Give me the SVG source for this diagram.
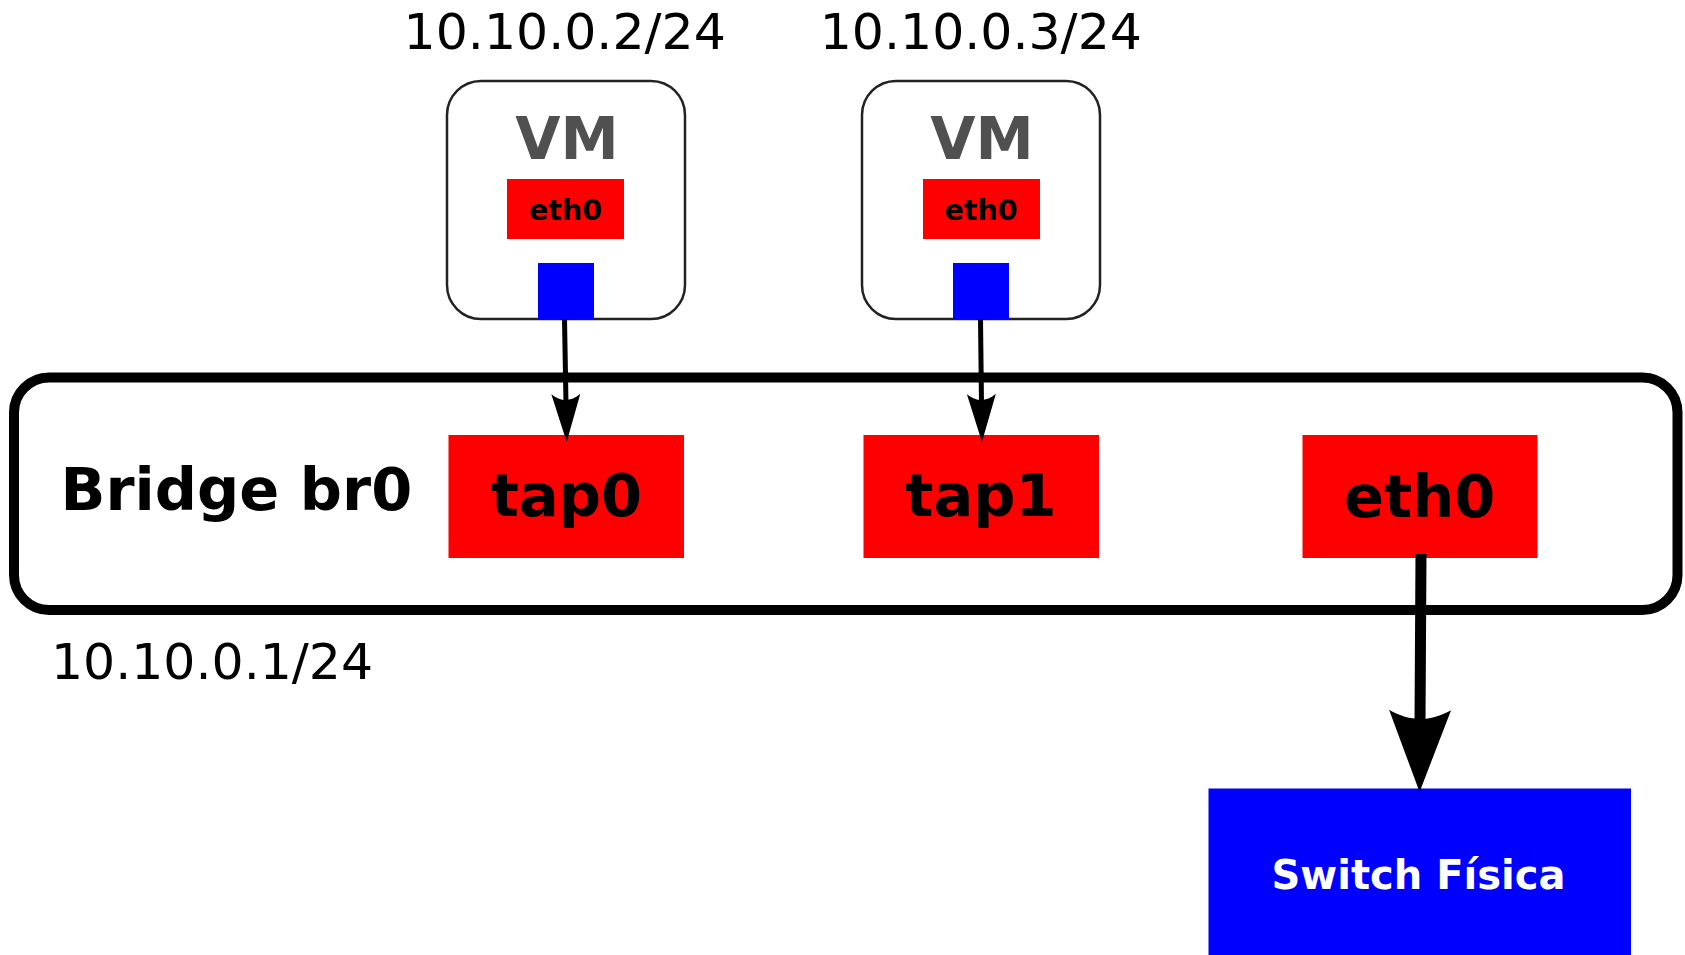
<svg xmlns="http://www.w3.org/2000/svg" width="1685" height="955" viewBox="0 0 1685 955">
  <style>
    .ip { font-family: "DejaVu Sans", sans-serif; font-size: 50.5px; fill: #000; text-anchor: middle; }
    .vmbox { fill: #fff; stroke: #222; stroke-width: 2.5; }
    .vmlabel { font-family: "DejaVu Sans", sans-serif; font-weight: bold; font-size: 58.5px; fill: #505050; text-anchor: middle; }
    .red { fill: #ff0000; }
    .blue { fill: #0000ff; }
    .small { font-family: "DejaVu Sans", sans-serif; font-weight: bold; font-size: 28.5px; fill: #000; text-anchor: middle; }
    .big { font-family: "DejaVu Sans", sans-serif; font-weight: bold; font-size: 59px; fill: #000; text-anchor: middle; }
    .conn { stroke: #000; fill: none; }
  </style>
  <defs>
    <marker id="arrowS" markerUnits="userSpaceOnUse" viewBox="-50 -16 52 32" markerWidth="52" markerHeight="32" refX="-38" refY="0" orient="auto" overflow="visible">
      <path d="M0,0 L-48,-14.5 C-40,-5 -40,5 -48,14.5 Z" fill="#000"/>
    </marker>
    <marker id="arrowL" markerUnits="userSpaceOnUse" viewBox="-84 -33 86 66" markerWidth="86" markerHeight="66" refX="-70" refY="0" orient="auto" overflow="visible">
      <path d="M0,0 L-82,-31 C-70,-10 -70,10 -82,31 Z" fill="#000"/>
    </marker>
  </defs>

  <g id="bridge">
    <rect x="14" y="377.5" width="1663.5" height="232.5" rx="35" ry="35" fill="#fff" stroke="#000" stroke-width="10"/>
    <text x="60.5" y="510" font-family="DejaVu Sans, sans-serif" font-weight="bold" font-size="59" fill="#000">Bridge br0</text>
    <text class="ip" x="212" y="679">10.10.0.1/24</text>
  </g>

  <g id="vm1">
    <text class="ip" x="564.7" y="49">10.10.0.2/24</text>
    <rect class="vmbox" x="447" y="81" width="238" height="238" rx="34" ry="34"/>
    <text class="vmlabel" x="567" y="159">VM</text>
    <rect class="red" x="507" y="179" width="117" height="60"/>
    <text class="small" x="565.5" y="220">eth0</text>
    <rect class="blue" x="538" y="263" width="56" height="56.5"/>
  </g>

  <g id="vm2">
    <text class="ip" x="980.8" y="49">10.10.0.3/24</text>
    <rect class="vmbox" x="862" y="81" width="238" height="238" rx="34" ry="34"/>
    <text class="vmlabel" x="982" y="159">VM</text>
    <rect class="red" x="923" y="179" width="117" height="60"/>
    <text class="small" x="981" y="220">eth0</text>
    <rect class="blue" x="953" y="263" width="56" height="56.5"/>
  </g>

  <g id="tap0">
    <rect class="red" x="448.5" y="435" width="235.5" height="123"/>
    <text class="big" x="566.5" y="516">tap0</text>
  </g>

  <g id="tap1">
    <rect class="red" x="863.5" y="435" width="235.5" height="123"/>
    <text class="big" x="981" y="516">tap1</text>
  </g>

  <g id="eth0">
    <rect class="red" x="1302.5" y="435" width="235" height="123"/>
    <text class="big" x="1419.7" y="517">eth0</text>
  </g>

  <g id="switch">
    <rect class="blue" x="1208.5" y="788.5" width="422.5" height="170"/>
    <text x="1418.5" y="889" font-family="DejaVu Sans, sans-serif" font-weight="bold" font-size="40" fill="#fff" text-anchor="middle">Switch Física</text>
  </g>

  <g id="connectors">
    <line class="conn" x1="564.5" y1="319" x2="566" y2="404" stroke-width="5" marker-end="url(#arrowS)"/>
    <line class="conn" x1="980.5" y1="319" x2="981.5" y2="404" stroke-width="5" marker-end="url(#arrowS)"/>
    <line class="conn" x1="1421" y1="554" x2="1420" y2="722" stroke-width="11" marker-end="url(#arrowL)"/>
  </g>
</svg>
